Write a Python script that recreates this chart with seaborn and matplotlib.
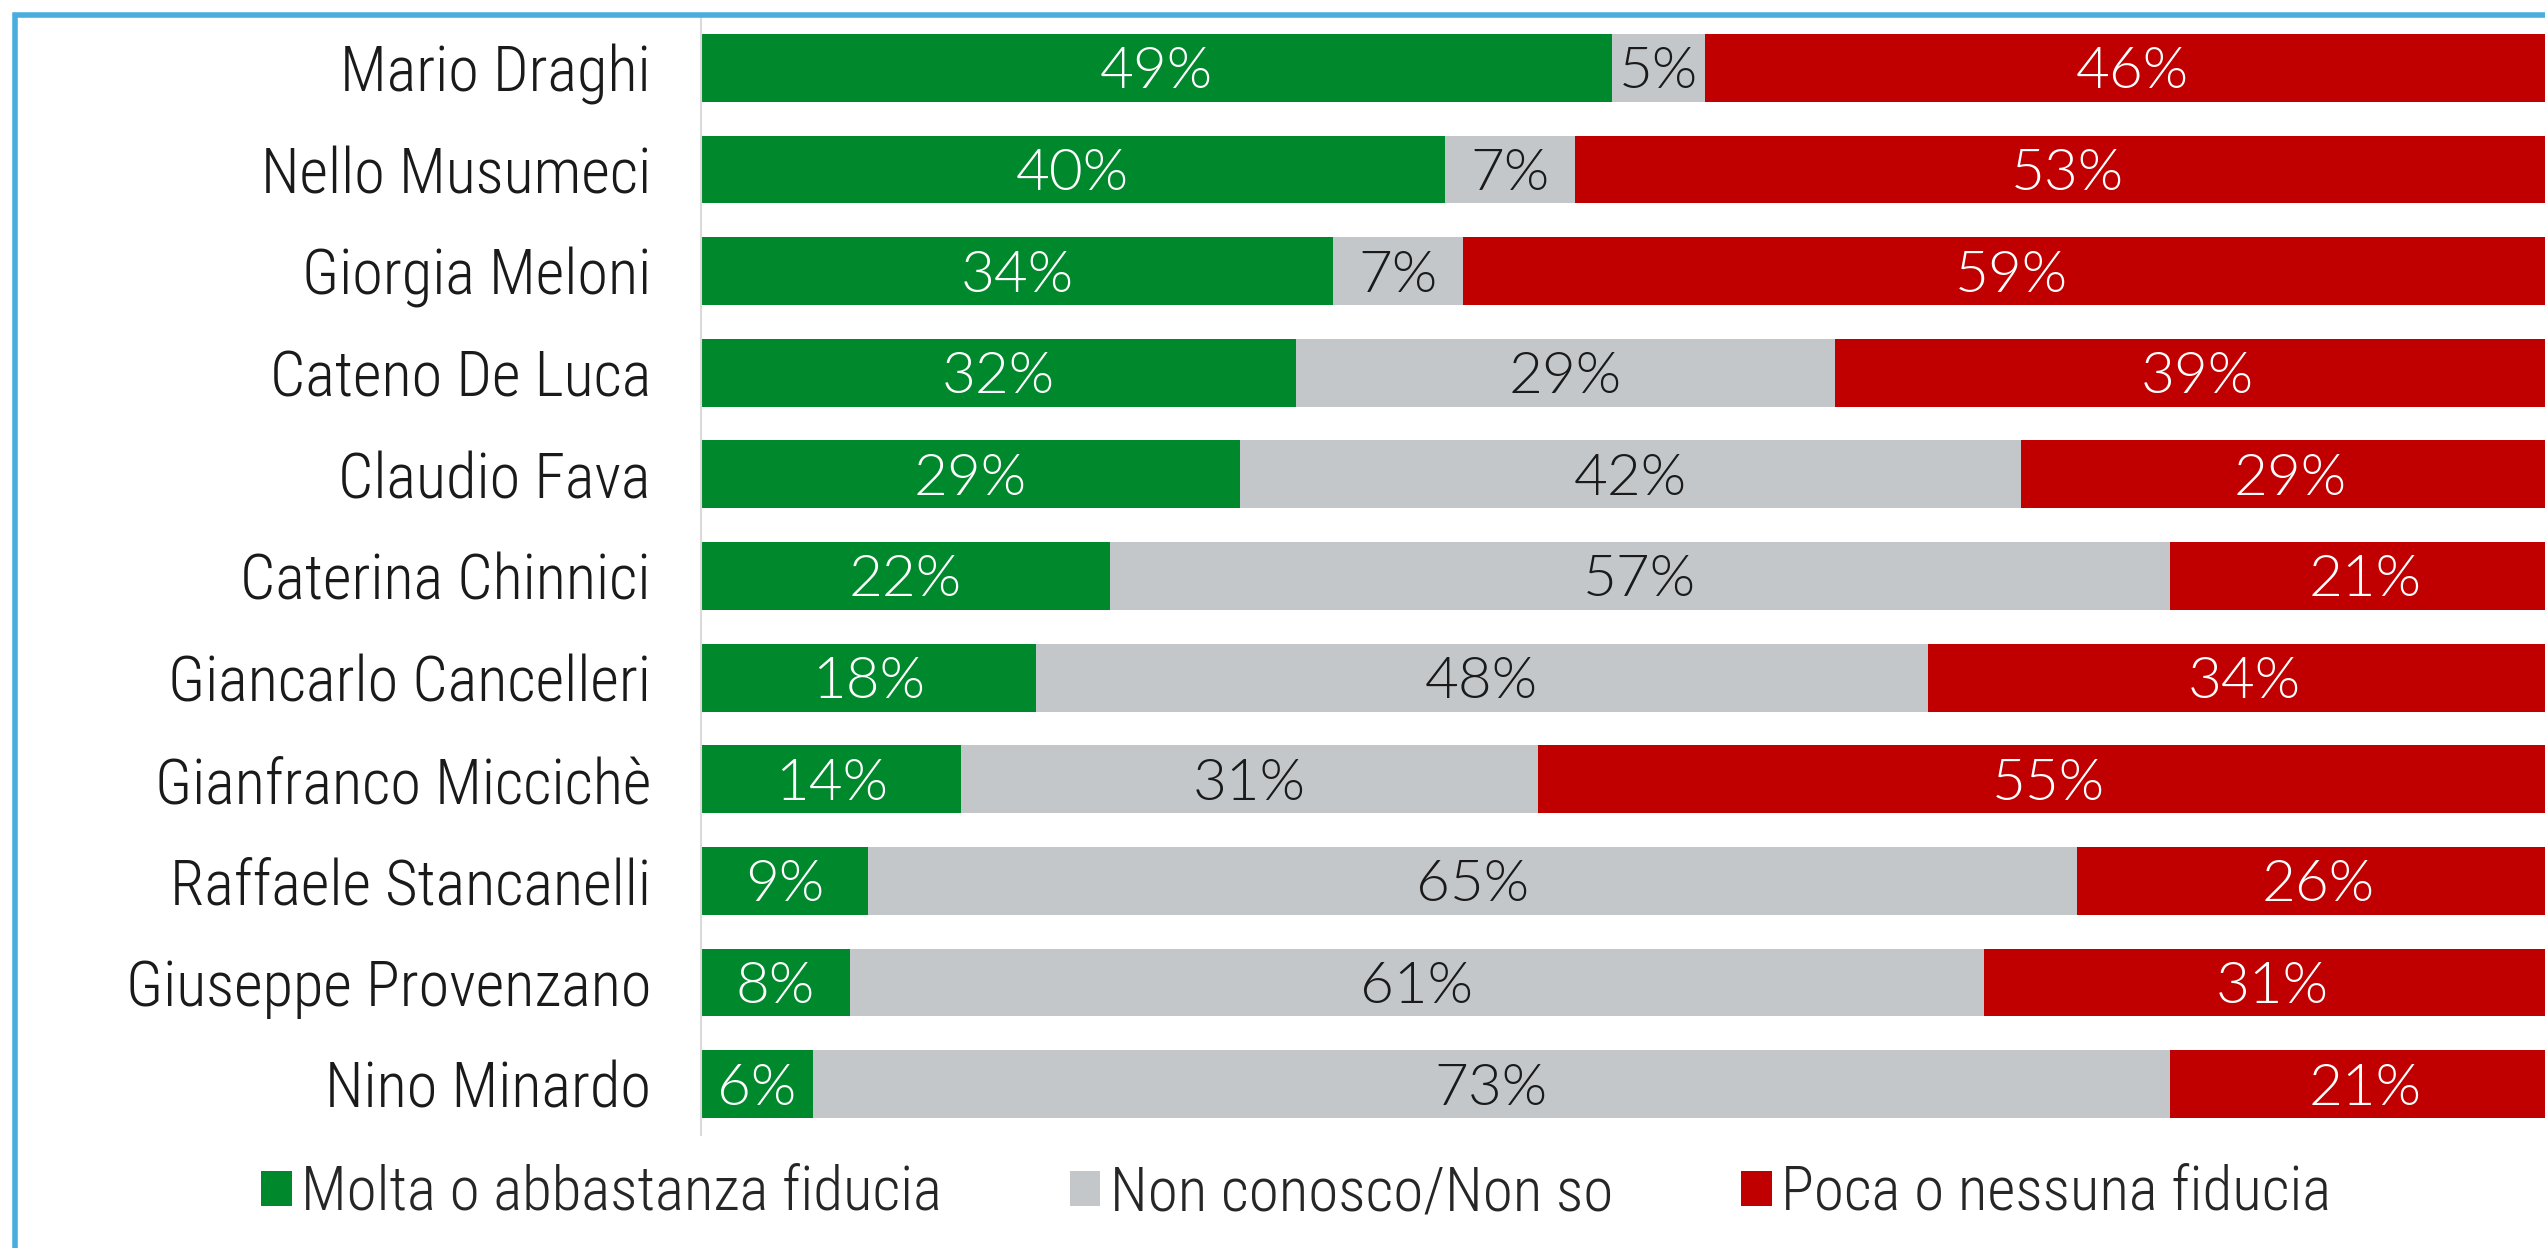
import matplotlib
matplotlib.use("Agg")
import matplotlib.pyplot as plt
from matplotlib import font_manager as fm
from matplotlib.patches import Patch, Rectangle
import seaborn as sns
import pandas as pd

# ---- data ----
politicians = ["Mario Draghi", "Nello Musumeci", "Giorgia Meloni", "Cateno De Luca",
               "Claudio Fava", "Caterina Chinnici", "Giancarlo Cancelleri",
               "Gianfranco Miccichè", "Raffaele Stancanelli", "Giuseppe Provenzano",
               "Nino Minardo"]
fiducia = [49, 40, 34, 32, 29, 22, 18, 14, 9, 8, 6]
non_so = [5, 7, 7, 29, 42, 57, 48, 31, 65, 61, 73]
sfiducia = [46, 53, 59, 39, 29, 21, 34, 55, 26, 31, 21]
series_labels = ["Molta o abbastanza fiducia", "Non conosco/Non so", "Poca o nessuna fiducia"]
series_colors = ["#00882C", "#C4C7CA", "#C00000"]
label_colors = ["white", "#1a1a1a", "white"]

# ---- fonts ----
flist = fm.fontManager.ttflist
avail = {f.name for f in flist}
family = next((f for f in ["Roboto Condensed", "Barlow Semi Condensed", "Encode Sans Semi Condensed",
                           "Fira Sans Condensed", "DejaVu Sans"] if f in avail))
light_ok = lambda n: any(f.name == n and f.weight <= 300 for f in flist)
label_family = next((f for f in ["Lato", "Open Sans", "Roboto", "Inter"] if light_ok(f)), family)

sns.set_theme(style="white")
plt.rcParams["font.family"] = [family, "DejaVu Sans"]
plt.rcParams["font.weight"] = 300

df = pd.DataFrame({"nome": politicians, "g": fiducia, "n": non_so, "r": sfiducia})
df["c1"] = df["g"]
df["c2"] = df["g"] + df["n"]
df["c3"] = df["g"] + df["n"] + df["r"]

W, H = 2545, 1248
fig = plt.figure(figsize=(W / 100, H / 100), dpi=100)
ax = fig.add_axes([701 / W, 1 - 1135 / H, (2560 - 701) / W, (1135 - 17) / H])

for col, color in zip(["c3", "c2", "c1"], series_colors[::-1]):
    sns.barplot(data=df, x=col, y="nome", orient="h", color=color, width=0.667,
                saturation=1, ax=ax, edgecolor="none", linewidth=0)

ax.set_xlim(0, 100)
ax.set_ylim(10.5, -0.5)
ax.set_xlabel("")
ax.set_ylabel("")
ax.set_xticks([])
for s in ["top", "right", "bottom"]:
    ax.spines[s].set_visible(False)
ax.spines["left"].set_color("#DADADA")
ax.spines["left"].set_linewidth(1.5)
ax.tick_params(axis="y", length=0, pad=36, labelsize=45, labelcolor="#1a1a1a")
for t in ax.get_yticklabels():
    t.set_fontweight(300)

# value labels centred in each segment
for i in range(len(df)):
    starts = [0, df["c1"][i], df["c2"][i]]
    vals = [df["g"][i], df["n"][i], df["r"][i]]
    for s, v, tc in zip(starts, vals, label_colors):
        ax.text(s + v / 2, i, f"{v}%", ha="center", va="center_baseline",
                fontsize=42, color=tc, fontweight=300, family=[label_family, "DejaVu Sans"])

# legend
handles = [Patch(facecolor=c, edgecolor="none") for c in series_colors]
fig.legend(handles, series_labels, loc="center", bbox_to_anchor=(1296 / W, 1 - 1193 / H),
           ncol=3, frameon=False, handlelength=0.5, handleheight=0.5,
           handletextpad=0.15, columnspacing=2.1, prop={"weight": 300, "size": 44})

# blue frame (clipped on right and bottom)
fig.patches.append(Rectangle((15 / W, -0.1), 1.2, 1 - 15 / H + 0.1, transform=fig.transFigure,
                             fill=False, edgecolor="#4AADDE", linewidth=4, clip_on=False))

fig.savefig("out.png", dpi=100)
